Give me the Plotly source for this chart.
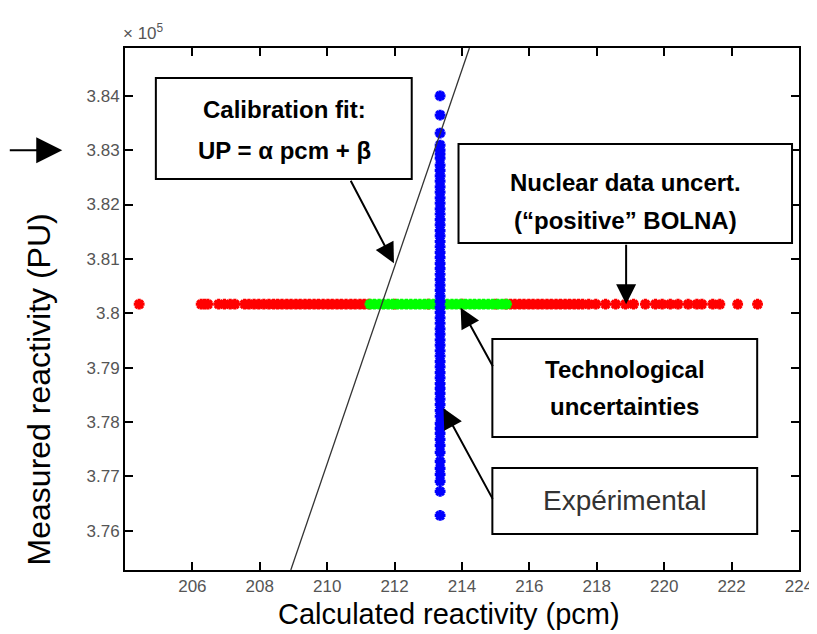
import plotly.graph_objects as go

# ---------------- data ----------------
# Nuclear data uncertainties ("positive" BOLNA) - red
red_pcm = [204.42, 206.26, 206.36, 206.46, 206.78, 206.95, 207.12, 207.26,
           207.55, 207.68, 207.83, 207.97, 208.12, 208.27, 208.41, 208.53,
           208.66, 208.80, 208.93, 209.07, 209.20, 209.34, 209.47, 209.61,
           209.74, 209.88, 210.02, 210.15, 210.29, 210.42, 210.56, 210.70,
           210.83, 210.97, 211.10, 211.24, 212.0, 213.0, 214.0, 215.0,
           215.30, 215.44, 215.57, 215.71, 215.84, 215.98, 216.11, 216.25,
           216.38, 216.52, 216.65, 216.79, 216.92, 217.06, 217.19, 217.33,
           217.46, 217.58, 217.76, 217.97, 218.26, 218.56, 218.85, 219.09,
           219.44, 219.74, 219.94, 220.18, 220.41, 220.71, 220.97, 221.12,
           221.44, 221.65, 222.18, 222.77]
red_level_pu = 380166

# Technological uncertainties - green
green_pcm = [211.27, 211.40, 211.54, 211.67, 211.81, 211.94, 212.08, 212.21,
             212.35, 212.48, 212.62, 212.75, 212.89, 213.02, 213.16, 213.29,
             213.43, 213.56, 213.70, 213.83, 213.97, 214.10, 214.24, 214.37,
             214.51, 214.64, 214.78, 214.91, 215.06, 215.19, 215.32]
green_level_pu = 380166

# Experimental - blue
blue_level_pcm = 213.35
blue_pu = [384000, 383646, 383315, 383094, 383002, 382930, 382855,
           382726, 382630, 382528, 382431, 382325, 382228, 382124, 382027,
           381921, 381826, 381722, 381625, 381521, 381424, 381320, 381223,
           381119, 381022, 380918, 380821, 380717, 380620, 380516, 380419,
           380315, 380218, 380114, 380017, 379913, 379816, 379712, 379615,
           379511, 379414, 379310, 379213, 379109, 379012, 378908, 378811,
           378707, 378619,
           378527, 378420, 378318, 378210, 378105, 377974,
           377882, 377790, 377680, 377569, 377440, 377274, 377145, 377035,
           376906, 376722, 376280]

# Calibration fit line UP = alpha*pcm + beta (end points)
fit_pcm = [208.92, 214.22]
fit_pu = [375276, 384880]

x_ticks = [206, 208, 210, 212, 214, 216, 218, 220, 222, 224]
y_ticks = [376000, 377000, 378000, 379000, 380000, 381000, 382000, 383000, 384000]
y_tick_text = ["3.76", "3.77", "3.78", "3.79", "3.8", "3.81", "3.82", "3.83", "3.84"]

x_range = [204, 224]
y_range = [375276, 384880]

# ---------------- figure ----------------
FONT = "Arial, Liberation Sans, Helvetica, sans-serif"
W, H = 817, 634
ML, MR, MT, MB = 117, 23, 40, 72


def px_x(px):
    return (px - ML) / (W - ML - MR)


def px_y(py):
    return 1 - (py - MT) / (H - MT - MB)


fig = go.Figure()

marker_common = dict(symbol="asterisk-open", size=9, line=dict(width=3.2))

fig.add_trace(go.Scatter(x=red_pcm, y=[red_level_pu] * len(red_pcm), mode="markers",
                         marker=dict(color="#ff0000", **marker_common),
                         hoverinfo="skip", showlegend=False))
fig.add_trace(go.Scatter(x=green_pcm, y=[green_level_pu] * len(green_pcm), mode="markers",
                         marker=dict(color="#00ff00", **marker_common),
                         hoverinfo="skip", showlegend=False))
fig.add_trace(go.Scatter(x=[blue_level_pcm] * len(blue_pu), y=blue_pu, mode="markers",
                         marker=dict(color="#0000ff", **marker_common),
                         hoverinfo="skip", showlegend=False))
fig.add_trace(go.Scatter(x=fit_pcm, y=fit_pu, mode="lines",
                         line=dict(color="#333333", width=1.3),
                         hoverinfo="skip", showlegend=False))

axis_common = dict(showline=True, linecolor="black", linewidth=2, mirror="allticks",
                   ticks="inside", ticklen=8, tickwidth=1.5, tickcolor="black",
                   showgrid=False, zeroline=False,
                   tickfont=dict(family=FONT, size=17, color="#555555"))

fig.update_xaxes(range=x_range, tickvals=x_ticks, ticktext=[str(v) for v in x_ticks],
                 **axis_common)
fig.update_yaxes(range=y_range, tickvals=y_ticks, ticktext=y_tick_text, **axis_common)

# boxes (pixel positions -> paper)
boxes = [
    (148, 70, 405, 171),
    (452, 136, 787, 235),
    (486, 331, 752, 429),
    (486, 460, 752, 526),
]
for x0, y0, x1, y1 in boxes:
    fig.add_shape(type="rect", xref="paper", yref="paper",
                  x0=px_x(x0), x1=px_x(x1), y0=px_y(y1), y1=px_y(y0),
                  line=dict(color="black", width=2), fillcolor="white", layer="above")

bold = dict(family=FONT, size=24, color="black")
texts = [
    ("<b>Calibration fit:</b>", 277, 101, bold),
    ("<b>UP = α pcm + β</b>", 277, 142, bold),
    ("<b>Nuclear data uncert.</b>", 620, 175, bold),
    ("<b>(“positive” BOLNA)</b>", 620, 212, bold),
    ("<b>Technological</b>", 619, 361, bold),
    ("<b>uncertainties</b>", 619, 398, bold),
    ("Expérimental", 619, 492, dict(family=FONT, size=28, color="#333333")),
]
for t, x, y, f in texts:
    fig.add_annotation(text=t, xref="paper", yref="paper", x=px_x(x), y=px_y(y),
                       xanchor="center", yanchor="middle", showarrow=False, font=f)

# axis titles
fig.add_annotation(text="Calculated reactivity (pcm)", xref="paper", yref="paper",
                   x=px_x(442), y=px_y(606), xanchor="center", yanchor="middle",
                   showarrow=False, font=dict(family=FONT, size=29, color="black"))
fig.add_annotation(text="Measured reactivity (PU)", xref="paper", yref="paper",
                   x=px_x(31), y=px_y(381), xanchor="center", yanchor="middle",
                   textangle=-90, showarrow=False,
                   font=dict(family=FONT, size=32, color="black"))
fig.add_annotation(text="× 10<sup>5</sup>", xref="paper", yref="paper",
                   x=px_x(113), y=px_y(24), xanchor="left", yanchor="middle",
                   showarrow=False, font=dict(family=FONT, size=17, color="#555555"))

# arrows (head in data coordinates, tail offset in pixels)
arrows = [
    ("paper", px_x(54), 383000, -54, 0, 2.6),
    ("x", 211.98, 380921, -44, -84, 2.0),
    ("x", 218.87, 380166, 0, -61, 2.0),
    ("x", 213.96, 380100, 33, 60, 2.0),
    ("x", 213.45, 378250, 50, 92, 2.0),
]
for xr, x, y, ax, ay, s in arrows:
    fig.add_annotation(xref=xr, yref="y", x=x, y=y, ax=ax, ay=ay, text="",
                       showarrow=True, arrowhead=2, arrowsize=s, arrowwidth=2,
                       arrowcolor="black")

fig.update_layout(width=W, height=H, margin=dict(l=ML, r=MR, t=MT, b=MB),
                  plot_bgcolor="white", paper_bgcolor="white", showlegend=False)

fig.write_html("out.html")
